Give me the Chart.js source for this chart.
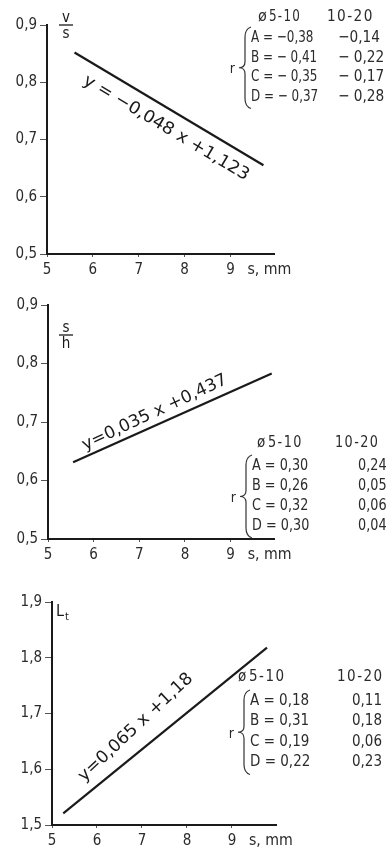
<!DOCTYPE html>
<html>
<head>
<meta charset="utf-8">
<script src="https://cdn.jsdelivr.net/npm/chart.js@4.4.1/dist/chart.umd.min.js"></script>
<style>
  html, body { margin: 0; padding: 0; background: #fff; }
  #wrap { position: relative; width: 390px; height: 855px; background: #fff; }
  .pane { position: absolute; left: 0; width: 390px; }
  canvas { display: block; }
</style>
</head>
<body>
<div id="wrap">
  <div class="pane" style="top:0px;height:285px"><canvas id="c1" width="390" height="285"></canvas></div>
  <div class="pane" style="top:285px;height:285px"><canvas id="c2" width="390" height="285"></canvas></div>
  <div class="pane" style="top:570px;height:285px"><canvas id="c3" width="390" height="285"></canvas></div>
</div>
<script>
// ---------- data ----------
const xTickValues = [5, 6, 7, 8, 9];
const xAxisLabel = 's, mm';

// panel 1: v/s
const p1YTicks = [0.5, 0.6, 0.7, 0.8, 0.9];
const p1LineX = [5.6, 9.72];
const p1LineY = [0.852, 0.655];
const p1Equation = 'y = −0,048 x +1,123';

// panel 2: s/h
const p2YTicks = [0.5, 0.6, 0.7, 0.8, 0.9];
const p2LineX = [5.55, 9.9];
const p2LineY = [0.631, 0.783];
const p2Equation = 'y=0,035 x +0,437';

// panel 3: Lt
const p3YTicks = [1.5, 1.6, 1.7, 1.8, 1.9];
const p3LineX = [5.25, 9.78];
const p3LineY = [1.521, 1.818];
const p3Equation = 'y=0,065 x +1,18';

// correlation tables
const tableRows = ['A', 'B', 'C', 'D'];
const tableHeader = ['ø', '5-10', '10-20'];
const p1R_5_10 = ['−0,38', '− 0,41', '− 0,35', '− 0,37'];
const p1R_10_20 = ['−0,14', '− 0,22', '− 0,17', '− 0,28'];
const p2R_5_10 = ['0,30', '0,26', '0,32', '0,30'];
const p2R_10_20 = ['0,24', '0,05', '0,06', '0,04'];
const p3R_5_10 = ['0,18', '0,31', '0,19', '0,22'];
const p3R_10_20 = ['0,11', '0,18', '0,06', '0,23'];

// ---------- style ----------
const FONT = "'Liberation Sans Narrow', 'DejaVu Sans Condensed', 'Liberation Sans', sans-serif";
const INK = '#1a1a1a';
const LABEL = '#2b2b2b';

function fmt(v) { return v.toFixed(1).replace('.', ','); }

function textScaled(ctx, text, x, y, sx) {
  ctx.save();
  ctx.translate(x, y);
  ctx.scale(sx, 1);
  ctx.fillText(text, 0, 0);
  ctx.restore();
}

function drawBrace(ctx, x, y0, y1) {
  const ym = (y0 + y1) / 2;
  ctx.save();
  ctx.strokeStyle = '#333';
  ctx.lineWidth = 1.2;
  ctx.beginPath();
  ctx.moveTo(x + 6, y0);
  ctx.quadraticCurveTo(x, y0 + 2, x, y0 + 10);
  ctx.lineTo(x, ym - 6);
  ctx.quadraticCurveTo(x, ym, x - 6, ym);
  ctx.quadraticCurveTo(x, ym, x, ym + 6);
  ctx.lineTo(x, y1 - 10);
  ctx.quadraticCurveTo(x, y1 - 2, x + 6, y1);
  ctx.stroke();
  ctx.restore();
}

function makePanel(id, opt) {
  const overlay = {
    id: 'overlay_' + id,
    afterDraw(chart) {
      const ctx = chart.ctx;
      const xs = chart.scales.x, ys = chart.scales.y;
      const ca = chart.chartArea;
      ctx.save();
      ctx.fillStyle = LABEL;
      ctx.textBaseline = 'middle';

      // x axis unit label
      ctx.font = '15px ' + FONT;
      ctx.textAlign = 'left';
      textScaled(ctx, xAxisLabel, xs.getPixelForValue(9) + 17, ca.bottom + 16, 1.05);

      // y axis title
      opt.yTitle(ctx, ca);

      // regression equation along the line
      const pA = { x: xs.getPixelForValue(opt.lineX[0]), y: ys.getPixelForValue(opt.lineY[0]) };
      const pB = { x: xs.getPixelForValue(opt.lineX[1]), y: ys.getPixelForValue(opt.lineY[1]) };
      const ang = Math.atan2(pB.y - pA.y, pB.x - pA.x) + opt.eqAngAdj * Math.PI / 180;
      const t = (opt.eqAt - opt.lineX[0]) / (opt.lineX[1] - opt.lineX[0]);
      const cx = pA.x + (pB.x - pA.x) * t, cy = pA.y + (pB.y - pA.y) * t;
      ctx.translate(cx, cy);
      ctx.rotate(ang);
      ctx.font = '17px ' + FONT;
      ctx.textAlign = 'center';
      ctx.fillStyle = INK;
      const w = ctx.measureText(opt.equation).width;
      const sx = opt.eqLen / w;
      ctx.translate(0, opt.eqOffset);
      ctx.scale(sx, 1);
      ctx.fillText(opt.equation, 0, 0);
      ctx.restore();

      // table
      const T = opt.table;
      ctx.save();
      ctx.fillStyle = LABEL;
      ctx.textBaseline = 'middle';
      ctx.font = T.size + 'px ' + FONT;
      ctx.textAlign = 'left';
      textScaled(ctx, tableHeader[0], T.phiX, T.headY, 1);
      ctx.letterSpacing = '1.5px';
      textScaled(ctx, tableHeader[1], T.phiX + 11, T.headY, T.sx);
      textScaled(ctx, tableHeader[2], T.col2HeadX, T.headY, T.sx2);
      ctx.letterSpacing = '0px';
      for (let i = 0; i < tableRows.length; i++) {
        const y = T.rowY0 + i * T.rowStep;
        textScaled(ctx, tableRows[i] + ' = ' + T.c1[i], T.col1X, y, T.sx);
        textScaled(ctx, T.c2[i], T.col2X, y, T.sx2);
      }
      const bTop = T.rowY0 - 11, bBot = T.rowY0 + 3 * T.rowStep + 12;
      drawBrace(ctx, T.col1X - 6, bTop, bBot);
      ctx.font = '14px ' + FONT;
      ctx.textAlign = 'right';
      ctx.fillText('r', T.col1X - 16, (bTop + bBot) / 2 + 2);
      ctx.restore();
    }
  };

  return new Chart(document.getElementById(id), {
    type: 'scatter',
    data: {
      datasets: [{
        data: opt.lineX.map((x, i) => ({ x: x, y: opt.lineY[i] })),
        showLine: true,
        borderColor: INK,
        borderWidth: 2.2,
        pointRadius: 0,
        fill: false
      }]
    },
    options: {
      responsive: false,
      animation: false,
      events: [],
      layout: { padding: { top: opt.padTop, right: opt.padRight, left: 0, bottom: 0 } },
      plugins: { legend: { display: false }, tooltip: { enabled: false }, title: { display: false } },
      scales: {
        x: {
          type: 'linear',
          min: 5,
          max: opt.xMax,
          afterBuildTicks: (s) => { s.ticks = xTickValues.map(v => ({ value: v })); },
          afterFit: (s) => { s.height = opt.xAxisH; },
          border: { display: true, color: INK, width: 2 },
          grid: { drawOnChartArea: false, drawTicks: true, tickLength: 3, color: '#555', lineWidth: 1 },
          ticks: { color: LABEL, padding: 4, font: { family: FONT, size: 15 }, maxRotation: 0,
                   callback: (v) => String(v) }
        },
        y: {
          type: 'linear',
          min: opt.yTicks[0],
          max: opt.yTicks[opt.yTicks.length - 1],
          afterBuildTicks: (s) => { s.ticks = opt.yTicks.map(v => ({ value: v })); },
          afterFit: (s) => { s.width = opt.yAxisW; },
          border: { display: true, color: INK, width: 2 },
          grid: { drawOnChartArea: false, drawTicks: true, tickLength: 7, color: '#555', lineWidth: 1 },
          ticks: { color: LABEL, padding: 3, font: { family: FONT, size: 15 }, callback: (v) => fmt(v) }
        }
      }
    },
    plugins: [overlay]
  });
}

function fraction(num, den, x, yBar) {
  return (ctx, ca) => {
    ctx.save();
    ctx.font = '15px ' + FONT;
    ctx.textAlign = 'center';
    ctx.fillStyle = INK;
    ctx.textBaseline = 'alphabetic';
    ctx.fillText(num, x, yBar - 3);
    ctx.textBaseline = 'top';
    ctx.fillText(den, x, yBar + 2);
    ctx.strokeStyle = INK;
    ctx.lineWidth = 1.3;
    ctx.beginPath();
    ctx.moveTo(x - 7, yBar);
    ctx.lineTo(x + 7, yBar);
    ctx.stroke();
    ctx.restore();
  };
}

makePanel('c1', {
  padTop: 25, padRight: 116, xMax: 9.95, xAxisH: 31, yAxisW: 47,
  yTicks: p1YTicks, lineX: p1LineX, lineY: p1LineY,
  equation: p1Equation, eqAt: 7.8, eqLen: 190, eqOffset: 18, eqAngAdj: 0,
  yTitle: fraction('v', 's', 66, 25),
  table: { phiX: 258, headY: 17, col2HeadX: 327, col1X: 251, col2X: 338, size: 16, sx: 0.83, sx2: 0.95,
           rowY0: 38, rowStep: 19.5, c1: p1R_5_10, c2: p1R_10_20 }
});

makePanel('c2', {
  padTop: 20, padRight: 116, xMax: 9.95, xAxisH: 31, yAxisW: 48,
  yTicks: p2YTicks, lineX: p2LineX, lineY: p2LineY,
  equation: p2Equation, eqAt: 7.45, eqLen: 158, eqOffset: -12, eqAngAdj: -1,
  yTitle: fraction('s', 'h', 66, 50),
  table: { phiX: 257, headY: 158, col2HeadX: 335, col1X: 252, col2X: 358, size: 15, sx: 0.95, sx2: 0.95,
           rowY0: 181, rowStep: 20, c1: p2R_5_10, c2: p2R_10_20 }
});

makePanel('c3', {
  padTop: 32, padRight: 114, xMax: 9.98, xAxisH: 30, yAxisW: 52,
  yTicks: p3YTicks, lineX: p3LineX, lineY: p3LineY,
  equation: p3Equation, eqAt: 7.18, eqLen: 150, eqOffset: -21, eqAngAdj: -4,
  yTitle: (ctx, ca) => {
    ctx.save();
    ctx.fillStyle = INK;
    ctx.textAlign = 'left';
    ctx.textBaseline = 'middle';
    ctx.font = '16px ' + FONT;
    ctx.fillText('L', ca.left + 4, ca.top + 10);
    ctx.font = '11px ' + FONT;
    ctx.fillText('t', ca.left + 13, ca.top + 15);
    ctx.restore();
  },
  table: { phiX: 238, headY: 107, col2HeadX: 337, col1X: 250, col2X: 352, size: 15, sx: 1, sx2: 1,
           rowY0: 131, rowStep: 20.5, c1: p3R_5_10, c2: p3R_10_20 }
});
</script>
</body>
</html>
